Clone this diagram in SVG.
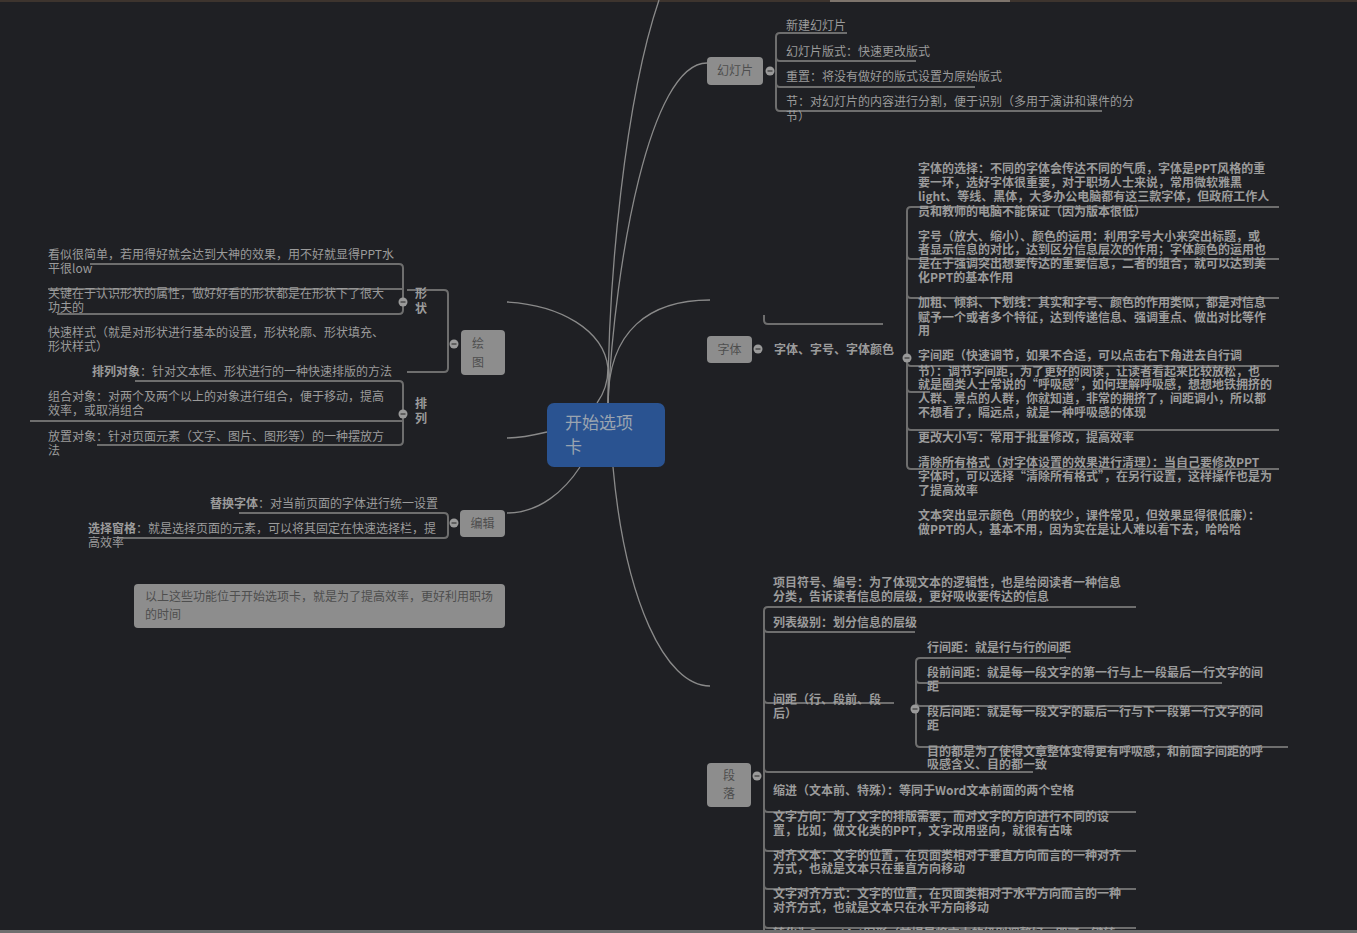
<svg xmlns="http://www.w3.org/2000/svg" width="1357" height="933" viewBox="0 0 1357 933">
<style>
text{font-family:"Noto Sans CJK SC","Liberation Sans",sans-serif;font-size:12px}
.t{fill:#9b9b9b}
.b{font-weight:bold}
.nr{fill:#8d8d8d}
.nt{fill:#4e4e4e}
.ln{fill:none;stroke:#8a8a8a;stroke-width:1.3}
.br{fill:none;stroke:#6e6e6e;stroke-width:2}
.dot{fill:#9a9a9a}
.dash{stroke:#3a3a3a;stroke-width:1.2}
</style>
<rect x="0" y="0" width="1357" height="933" fill="#1f2024"/>
<rect x="0" y="0" width="1357" height="2" fill="#3d342e"/>
<rect x="830" y="0" width="180" height="2" fill="#7d746c"/>
<rect x="0" y="930" width="1357" height="3" fill="#6f6f6f"/>

<g id="connectors">
<path class="ln" d="M608,403 C608,280 625,100 659,0"/>
<path class="ln" d="M608,403 C615,260 650,63 707,63"/>
<path class="ln" d="M608,403 C608,330 650,300 710,300"/>
<path class="ln" d="M597,403 Q608,388 608,368 C604,330 560,305 507,302"/>
<path class="ln" d="M547,432 C530,436 520,438 507,438"/>
<path class="ln" d="M580,467 C565,490 540,513 507,513"/>
<path class="ln" d="M613,467 C625,600 665,686 710,686"/>
<!-- 幻灯片 bracket -->
<path class="br" d="M776,37 V107"/>
<path class="br" d="M776,37 Q776,33 780,33 H847"/>
<path class="br" d="M776,57 Q776,61 780,61 H916"/>
<path class="br" d="M776,83 Q776,87 780,87 H975"/>
<path class="br" d="M776,107 Q776,111 780,111 H1102"/>
<!-- 字体 -->
<path class="br" d="M764,315 V320 Q764,324 768,324 H883"/>
<path class="br" d="M907,211 V465"/>
<path class="br" d="M907,211 Q907,207 911,207 H1279"/>
<path class="br" d="M907,255 Q907,259 911,259 H1279"/>
<path class="br" d="M907,294 Q907,298 911,298 H1279"/>
<path class="br" d="M907,362 Q907,366 911,366 H1279"/>
<path class="br" d="M907,388 Q907,392 911,392 H930"/>
<path class="br" d="M907,426 Q907,430 911,430 H1279"/>
<path class="br" d="M907,465 Q907,469 911,469 H1279"/>
<!-- 段落 -->
<path class="br" d="M764,611 V933"/>
<path class="br" d="M764,611 Q764,607 768,607 H1136"/>
<path class="br" d="M764,628 Q764,632 768,632 H915"/>
<path class="br" d="M764,699 Q764,703 768,703 H894"/>
<path class="br" d="M764,768 Q764,772 768,772 H1033"/>
<path class="br" d="M764,808 Q764,812 768,812 H1136"/>
<path class="br" d="M764,847 Q764,851 768,851 H1136"/>
<path class="br" d="M764,885 Q764,889 768,889 H1136"/>
<path class="br" d="M764,924 Q764,928 768,928 H1136"/>
<path class="br" d="M916,662 V743"/>
<path class="br" d="M916,662 Q916,658 920,658 H1066"/>
<path class="br" d="M916,679 Q916,683 920,683 H1222"/>
<path class="br" d="M916,702 Q916,706 920,706 H1262"/>
<path class="br" d="M916,743 Q916,747 920,747 H1288"/>
<!-- 绘图 -->
<path class="br" d="M448,294 V368"/>
<path class="br" d="M407,290 H444 Q448,290 448,294"/>
<path class="br" d="M407,372 H444 Q448,372 448,368"/>
<path class="br" d="M403,268 V310"/>
<path class="br" d="M90,264 H399 Q403,264 403,268"/>
<path class="br" d="M48,289 H403"/>
<path class="br" d="M57,314 H399 Q403,314 403,310"/>
<path class="br" d="M403,385 V441"/>
<path class="br" d="M135,381 H399 Q403,381 403,385"/>
<path class="br" d="M30,421 H403"/>
<path class="br" d="M97,445 H399 Q403,445 403,441"/>
<!-- 编辑 -->
<path class="br" d="M448,517 V534"/>
<path class="br" d="M239,513 H444 Q448,513 448,517"/>
<path class="br" d="M117,538 H444 Q448,538 448,534"/>
</g>

<g id="center">
<rect x="547" y="403" width="118" height="64" rx="7" fill="#2a5391"/>
<text x="565" y="429" style="font-size:17px" fill="#9aa4b0">开始选项</text>
<text x="565" y="453" style="font-size:17px" fill="#9aa4b0">卡</text>
</g>

<g id="node-slides">
<rect class="nr" x="707" y="57" width="56" height="28" rx="4"/>
<text class="nt" x="735" y="75" text-anchor="middle">幻灯片</text>
<circle class="dot" cx="770" cy="71" r="4.5"/><line class="dash" x1="767.5" y1="71" x2="772.5" y2="71"/>
<text class="t" x="786" y="30">新建幻灯片</text>
<text class="t" x="786" y="56">幻灯片版式：快速更改版式</text>
<text class="t" x="786" y="81">重置：将没有做好的版式设置为原始版式</text>
<text class="t" x="786" y="106">节：对幻灯片的内容进行分割，便于识别（多用于演讲和课件的分</text>
<text class="t" x="786" y="121">节）</text>
</g>

<g id="node-font">
<rect class="nr" x="707" y="336" width="45" height="27" rx="4"/>
<text class="nt" x="729.5" y="354" text-anchor="middle">字体</text>
<circle class="dot" cx="758" cy="349" r="4.5"/><line class="dash" x1="755.5" y1="349" x2="760.5" y2="349"/>
<text class="t b" x="774" y="354">字体、字号、字体颜色</text>
<circle class="dot" cx="907" cy="358" r="4.5"/><line class="dash" x1="904.5" y1="358" x2="909.5" y2="358"/>
<g class="t b">
<text x="918" y="173">字体的选择：不同的字体会传达不同的气质，字体是PPT风格的重</text>
<text x="918" y="187">要一环，选好字体很重要，对于职场人士来说，常用微软雅黑</text>
<text x="918" y="201">light、等线、黑体，大多办公电脑都有这三款字体，但政府工作人</text>
<text x="918" y="216">员和教师的电脑不能保证（因为版本很低）</text>
<text x="918" y="241">字号（放大、缩小）、颜色的运用：利用字号大小来突出标题，或</text>
<text x="918" y="254">者显示信息的对比，达到区分信息层次的作用；字体颜色的运用也</text>
<text x="918" y="268">是在于强调突出想要传达的重要信息，二者的组合，就可以达到美</text>
<text x="918" y="282">化PPT的基本作用</text>
<text x="918" y="307">加粗、倾斜、下划线：其实和字号、颜色的作用类似，都是对信息</text>
<text x="918" y="322">赋予一个或者多个特征，达到传递信息、强调重点、做出对比等作</text>
<text x="918" y="335">用</text>
<text x="918" y="360">字间距（快速调节，如果不合适，可以点击右下角进去自行调</text>
<text x="918" y="376">节）：调节字间距，为了更好的阅读，让读者看起来比较放松，也</text>
<text x="918" y="389">就是圈类人士常说的“呼吸感”，如何理解呼吸感，想想地铁拥挤的</text>
<text x="918" y="403">人群、景点的人群，你就知道，非常的拥挤了，间距调小，所以都</text>
<text x="918" y="417">不想看了，隔远点，就是一种呼吸感的体现</text>
<text x="918" y="442">更改大小写：常用于批量修改，提高效率</text>
<text x="918" y="467">清除所有格式（对字体设置的效果进行清理）：当自己要修改PPT</text>
<text x="918" y="481">字体时，可以选择“清除所有格式”，在另行设置，这样操作也是为</text>
<text x="918" y="495">了提高效率</text>
<text x="918" y="520">文本突出显示颜色（用的较少，课件常见，但效果显得很低廉）：</text>
<text x="918" y="534">做PPT的人，基本不用，因为实在是让人难以看下去，哈哈哈</text>
</g>
</g>

<g id="node-paragraph">
<rect class="nr" x="707" y="763" width="44" height="44" rx="4"/>
<text class="nt" x="723" y="780">段</text>
<text class="nt" x="723" y="798">落</text>
<circle class="dot" cx="757" cy="776" r="4.5"/><line class="dash" x1="754.5" y1="776" x2="759.5" y2="776"/>
<g class="t b">
<text x="773" y="587">项目符号、编号：为了体现文本的逻辑性，也是给阅读者一种信息</text>
<text x="773" y="601">分类，告诉读者信息的层级，更好吸收要传达的信息</text>
<text x="773" y="627">列表级别：划分信息的层级</text>
<text x="773" y="704">间距（行、段前、段</text>
<text x="773" y="718">后）</text>
<text x="927" y="652">行间距：就是行与行的间距</text>
<text x="927" y="677">段前间距：就是每一段文字的第一行与上一段最后一行文字的间</text>
<text x="927" y="691">距</text>
<text x="927" y="716">段后间距：就是每一段文字的最后一行与下一段第一行文字的间</text>
<text x="927" y="730">距</text>
<text x="927" y="756">目的都是为了使得文章整体变得更有呼吸感，和前面字间距的呼</text>
<text x="927" y="769">吸感含义、目的都一致</text>
<text x="773" y="795">缩进（文本前、特殊）：等同于Word文本前面的两个空格</text>
<text x="773" y="821">文字方向：为了文字的排版需要，而对文字的方向进行不同的设</text>
<text x="773" y="835">置，比如，做文化类的PPT，文字改用竖向，就很有古味</text>
<text x="773" y="860">对齐文本：文字的位置，在页面类相对于垂直方向而言的一种对齐</text>
<text x="773" y="873">方式，也就是文本只在垂直方向移动</text>
<text x="773" y="898">文字对齐方式：文字的位置，在页面类相对于水平方向而言的一种</text>
<text x="773" y="912">对齐方式，也就是文本只在水平方向移动</text>
<text x="773" y="938">转化为SmartArt图形（前提是将文本的级别调整好，即可一键转</text>
</g>
<circle class="dot" cx="915" cy="709" r="4.5"/><line class="dash" x1="912.5" y1="709" x2="917.5" y2="709"/>
</g>
<rect x="0" y="930" width="1357" height="3" fill="#6f6f6f"/>

<g id="node-draw">
<rect class="nr" x="461" y="330" width="44" height="45" rx="4"/>
<text class="nt" x="472" y="348">绘</text>
<text class="nt" x="472" y="367">图</text>
<circle class="dot" cx="454" cy="344" r="4.5"/><line class="dash" x1="451.5" y1="344" x2="456.5" y2="344"/>
<text class="t b" x="415" y="298">形</text>
<text class="t b" x="415" y="313">状</text>
<circle class="dot" cx="403" cy="302" r="4.5"/><line class="dash" x1="400.5" y1="302" x2="405.5" y2="302"/>
<text class="t" x="48" y="259">看似很简单，若用得好就会达到大神的效果，用不好就显得PPT水</text>
<text class="t" x="48" y="273">平很low</text>
<text class="t" x="48" y="298">关键在于认识形状的属性，做好好看的形状都是在形状下了很大</text>
<text class="t" x="48" y="312">功夫的</text>
<text class="t" x="48" y="337">快速样式（就是对形状进行基本的设置，形状轮廓、形状填充、</text>
<text class="t" x="48" y="351">形状样式）</text>
</g>

<g id="node-arrange">
<text class="t" x="92" y="376"><tspan class="b">排列对象</tspan>：针对文本框、形状进行的一种快速排版的方法</text>
<text class="t b" x="415" y="408">排</text>
<text class="t b" x="415" y="423">列</text>
<circle class="dot" cx="403" cy="414" r="4.5"/><line class="dash" x1="400.5" y1="414" x2="405.5" y2="414"/>
<text class="t" x="48" y="401">组合对象：对两个及两个以上的对象进行组合，便于移动，提高</text>
<text class="t" x="48" y="415">效率，或取消组合</text>
<text class="t" x="48" y="441">放置对象：针对页面元素（文字、图片、图形等）的一种摆放方</text>
<text class="t" x="48" y="455">法</text>
</g>

<g id="node-edit">
<rect class="nr" x="460" y="510" width="45" height="27" rx="4"/>
<text class="nt" x="482.5" y="528" text-anchor="middle">编辑</text>
<circle class="dot" cx="454" cy="523" r="4.5"/><line class="dash" x1="451.5" y1="523" x2="456.5" y2="523"/>
<text class="t" x="210" y="508"><tspan class="b">替换字体</tspan>：对当前页面的字体进行统一设置</text>
<text class="t" x="88" y="533"><tspan class="b">选择窗格</tspan>：就是选择页面的元素，可以将其固定在快速选择栏，提</text>
<text class="t" x="88" y="547">高效率</text>
</g>

<g id="note">
<rect class="nr" x="134" y="584" width="371" height="44" rx="4"/>
<text class="nt" x="145" y="601">以上这些功能位于开始选项卡，就是为了提高效率，更好利用职场</text>
<text class="nt" x="145" y="619">的时间</text>
</g>
</svg>
